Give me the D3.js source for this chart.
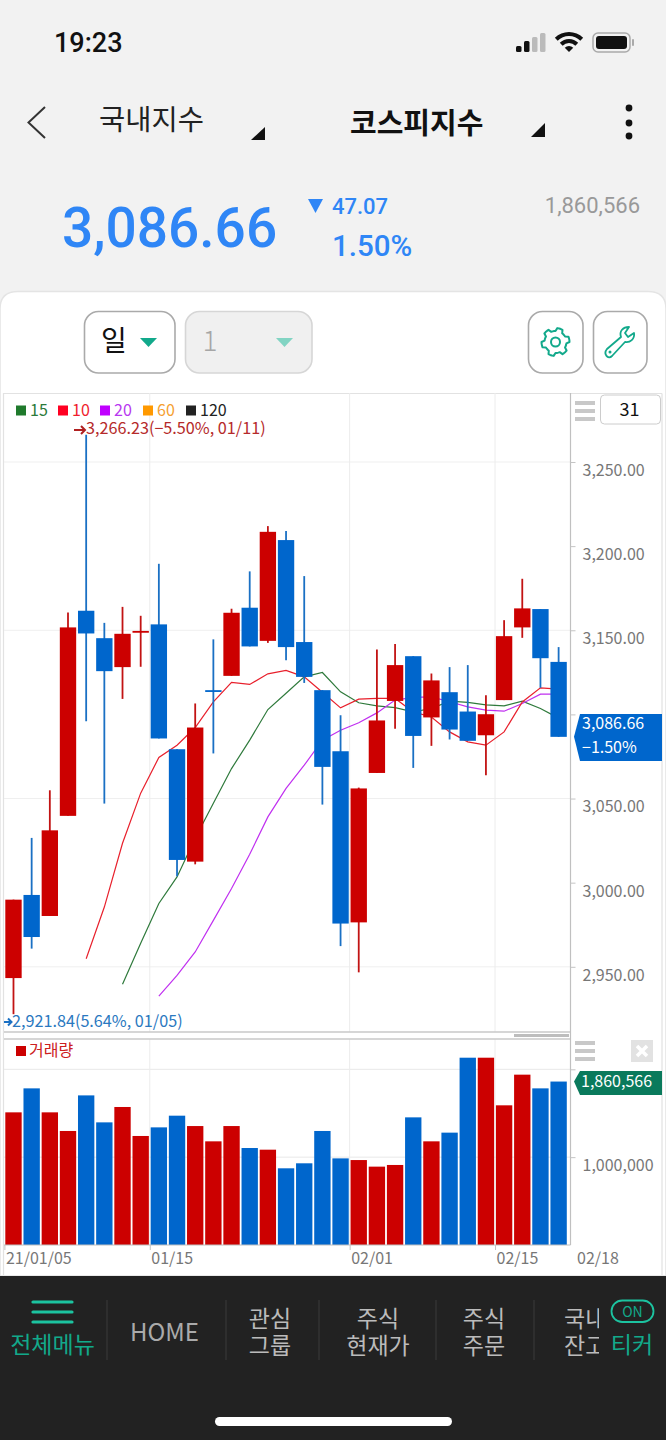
<!DOCTYPE html>
<html>
<head>
<meta charset="UTF-8">
<title>코스피지수</title>
<script src="https://cdnjs.cloudflare.com/ajax/libs/d3/7.8.5/d3.min.js"></script>
<style>
html, body { margin: 0; padding: 0; background: #f2f2f2; }
svg { display: block; }
text { font-family: "Noto Sans CJK KR", "Noto Sans", sans-serif; }
.num { font-family: Roboto, sans-serif; }
.axis path { display: none; }
.axis line { stroke: #c4c4c4; }
.axis text { fill: #777; font-size: 16px; font-family: "Noto Sans CJK KR", sans-serif; }
</style>
</head>
<body>
<div id="chart"></div>
<script>
var dates = ['01/05','01/06','01/07','01/08','01/11','01/12','01/13','01/14','01/15','01/18','01/19','01/20','01/21','01/22','01/25','01/26','01/27','01/28','01/29','02/01','02/02','02/03','02/04','02/05','02/08','02/09','02/10','02/15','02/16','02/17','02/18'];
var opens = [2943.3,2992.7,2980.2,3039.7,3161.6,3145.3,3128.1,3148.6,3153.5,3079.3,3012.5,3114.4,3122.9,3163.4,3143.7,3203.6,3143,3114.4,3078.1,2976.4,3065.2,3108,3134.6,3098.2,3113.2,3101.7,3087.6,3108.5,3151.7,3162.6,3131.2];
var closes = [2989.9,2967.7,3031.1,3151.7,3148.1,3125.7,3147.9,3149.6,3085.7,3013.5,3092.2,3113.6,3160.4,3140.4,3208.5,3140,3122.3,3068.8,2975.7,3056,3096.4,3129.3,3087.2,3120.2,3091,3084.3,3100.1,3146.5,3163,3133.4,3086.66];
var highs = [2989.9,3026.6,3054.9,3160.6,3266.23,3154.4,3163.9,3158.6,3189.5,3079.3,3106.5,3144.6,3162.8,3185,3211.9,3209,3182.2,3114.4,3099.5,3056.5,3138.6,3141.8,3134.6,3124.3,3128.1,3129.3,3111.4,3156,3180.6,3162.6,3140];
var lows = [2921.84,2960.8,2980.2,3039.7,3096,3047,3109.2,3128.3,3085.7,3003.8,3010.9,3076.8,3122.9,3140.4,3142.5,3132.2,3118.7,3046.4,2962.3,2946.7,3065.2,3091.4,3068.2,3081.3,3085.1,3084.3,3063.9,3108.5,3145.5,3115.8,3086.66];

// moving averages start later than the candles, first date given by *From
var ma10From = '01/11';
var ma10 = [2954.8,2985.5,3023.4,3053.2,3074.4,3081.7,3092.2,3107.4,3119,3117.8,3124.1,3126.1,3122.3,3113.2,3103.9,3109.1,3109.5,3109.5,3101.5,3098.5,3089.6,3083.7,3081.7,3089.6,3107.4,3115.8,3115];
var ma15From = '01/13';
var ma15 = [2939.6,2964,2987.6,3003.4,3026.4,3047.2,3067.8,3084.7,3102.9,3112.6,3122.3,3124.9,3113.4,3106.9,3105.1,3104,3101.5,3103.5,3107.9,3107.1,3105.7,3105.1,3107.9,3103.5,3097.8];
var ma20From = '01/15';
var ma20 = [2932.6,2944.9,2958.8,2977.6,2996.5,3016.9,3039.1,3056,3069.8,3084.7,3090.6,3095,3100.9,3108.5,3110.1,3110.4,3107.5,3104.5,3102.5,3101.9,3106.5,3112,3112];

var volumes = [1510000,1783000,1510000,1298000,1703000,1396000,1571000,1241000,1339000,1472000,1354000,1180000,1354000,1104000,1085000,873000,930000,1298000,986000,967000,892000,911000,1453000,1180000,1279000,2132000,2132000,1590000,1939000,1783000,1860566];
var volumeUp = [1,0,1,1,0,0,1,1,0,0,1,1,1,0,1,0,0,0,0,1,1,1,0,1,0,0,1,1,1,0,0];

var priceTicks = [3250,3200,3150,3100,3050,3000,2950];
var priceGrid = [3250,3150,3050,2950];
var volumeTicks = [1000000,2000000];
var dateTicks = ['01/05','01/15','02/01','02/15'];
var dateTickLabels = ['21/01/05','01/15','02/01','02/15'];

var legendNames = ['15','10','20','60','120'];
var legendColors = ['#1f7a2c','#ff0022','#c000ff','#ff9900','#222222'];
var legendText = ['#2b7a3a','#f01c2c','#b838f0','#f5a030','#222222'];

var RED = '#cc0000', BLUE = '#0066cc', TEAL = '#12a98b';

var svg = d3.select('#chart').append('svg').attr('width', 666).attr('height', 1440);
svg.append('rect').attr('width', 666).attr('height', 1440).attr('fill', '#f2f2f2');

function label(x, y, str, size, fill, anchor, weight, cls) {
    return svg.append('text').attr('x', x).attr('y', y).text(str)
        .attr('font-size', size).attr('fill', fill)
        .attr('text-anchor', anchor || 'start')
        .attr('font-weight', weight || 400)
        .attr('class', cls || null);
}
function poly(points, fill) {
    return svg.append('polygon').attr('points', points).attr('fill', fill);
}
function arrow(x0, x1, yy, head, width, color) {
    svg.append('path').attr('d', 'M' + x0 + ',' + yy + 'H' + x1 + 'M' + (x1 - head) + ',' + (yy - head) + 'L' + x1 + ',' + yy + 'L' + (x1 - head) + ',' + (yy + head))
        .attr('fill', 'none').attr('stroke', color).attr('stroke-width', width);
}

/* status bar */
label(54, 52, '19:23', 27, '#111', 'start', 500, 'num');
[[516,6,'#111'],[524,11,'#111'],[532,15,'#bbb'],[540,19,'#bbb']].forEach(function(b){
    svg.append('rect').attr('x', b[0]).attr('y', 52 - b[1]).attr('width', 5.5).attr('height', b[1]).attr('rx', 1.5).attr('fill', b[2]);
});
var wifi = d3.arc().startAngle(-Math.PI / 4).endAngle(Math.PI / 4);
[[0,6],[9,13],[16,20]].forEach(function(r){
    svg.append('path').attr('transform', 'translate(569,52)').attr('fill', '#111')
        .attr('d', wifi({innerRadius: r[0], outerRadius: r[1]}));
});
svg.append('rect').attr('x', 593).attr('y', 33).attr('width', 37).attr('height', 19).attr('rx', 5).attr('fill', 'none').attr('stroke', '#aaa').attr('stroke-width', 1.5);
svg.append('rect').attr('x', 596).attr('y', 36).attr('width', 31).attr('height', 13).attr('rx', 3).attr('fill', '#111');
svg.append('rect').attr('x', 632).attr('y', 39).attr('width', 2).attr('height', 7).attr('rx', 1).attr('fill', '#aaa');

/* title row */
svg.append('path').attr('d', 'M45,107L28.5,122.5L45,138').attr('fill', 'none').attr('stroke', '#333').attr('stroke-width', 2);
label(99, 130, '국내지수', 28.5, '#222');
poly('265,127 265,140 251,140', '#111');
label(350, 134, '코스피지수', 29, '#111', 'start', 700);
poly('545,123 545,137 531,137', '#111');
[108,123,136].forEach(function(y){
    svg.append('circle').attr('cx', 629).attr('cy', y).attr('r', 3.4).attr('fill', '#111');
});

/* quote */
label(62, 247, '3,086.66', 55, '#2f86f6', 'start', 500, 'num');
poly('308,199 323,199 315.5,213', '#2f86f6');
label(332, 214, '47.07', 22, '#2f86f6', 'start', 500, 'num');
label(332, 256, '1.50%', 29.5, '#2f86f6', 'start', 500, 'num');
label(640, 213, '1,860,566', 22, '#999', 'end', 400, 'num');

/* white panel */
svg.append('path').attr('d', 'M0,1276V309Q0,291.5 18,291.5H648Q666,291.5 666,309V1276Z').attr('fill', '#fff').attr('stroke', '#e4e4e4').attr('stroke-width', 1.5);

/* toolbar */
function button(x, w, fill, stroke) {
    svg.append('rect').attr('x', x).attr('y', 311.5).attr('width', w).attr('height', 61.5).attr('rx', 14)
        .attr('fill', fill).attr('stroke', stroke).attr('stroke-width', 1.6);
}
button(84.5, 90.5, '#fff', '#aaa');
label(114, 351, '일', 28, '#111', 'middle');
poly('140,338 157,338 148.5,347', TEAL);
button(185.5, 126.5, '#f0f0f0', '#d6d6d6');
label(210, 351, '1', 28, '#a6a6a6', 'middle', 300);
poly('276,338 293,338 284.5,347', '#82d4c3');
button(528.5, 54.5, '#fff', '#aaa');
button(593.5, 53.5, '#fff', '#aaa');

var gear = d3.range(48).map(function(i){
    var a = i / 48 * 2 * Math.PI - Math.PI / 8;
    var r = (i % 8) < 4 ? 14 : 11;
    return [555.5 + r * Math.cos(a), 342 + r * Math.sin(a)];
});
svg.append('path').attr('d', d3.line().curve(d3.curveLinearClosed)(gear)).attr('fill', 'none').attr('stroke', TEAL).attr('stroke-width', 2).attr('stroke-linejoin', 'round');
svg.append('circle').attr('cx', 555.5).attr('cy', 342).attr('r', 4.5).attr('fill', 'none').attr('stroke', TEAL).attr('stroke-width', 2);
svg.append('path').attr('d', 'M607,349L621,337C619,331 623,327 629,327L625,333L628,337L634,333C635,339 630,343 625,342L612,356C608,360 603,354 607,349Z')
    .attr('fill', 'none').attr('stroke', TEAL).attr('stroke-width', 1.8).attr('stroke-linejoin', 'round');
svg.append('circle').attr('cx', 610).attr('cy', 352).attr('r', 1.5).attr('fill', TEAL);

/* chart area */
var plotLeft = 4.4, plotRight = 567.7, axisX = 570.5;
var x = d3.scaleBand().domain(dates).range([plotLeft, plotRight]).paddingInner(0.1).paddingOuter(0.05);
var y = d3.scaleLinear().domain([2950, 3250]).range([966.8, 462]);
var yVol = d3.scaleLinear().domain([0, 2000000]).range([1245, 1069.3]);
function cx(d) { return x(d) + x.bandwidth() / 2; }
function edge(d) { return x(d) - (x.step() - x.bandwidth()) / 2; }

// frame
svg.append('path').attr('d', 'M662,393.5H3.5V1275M662,393.5V1275').attr('fill', 'none').attr('stroke', '#e2e2e2').attr('stroke-width', 1.2);

// grid
svg.selectAll('.hgrid').data(priceGrid).enter().append('line').attr('class', 'hgrid')
    .attr('x1', 4).attr('x2', axisX).attr('y1', function(d){ return y(d); }).attr('y2', function(d){ return y(d); })
    .attr('stroke', '#efefef');
svg.selectAll('.vhgrid').data(volumeTicks).enter().append('line').attr('class', 'vhgrid')
    .attr('x1', 4).attr('x2', axisX).attr('y1', function(d){ return yVol(d); }).attr('y2', function(d){ return yVol(d); })
    .attr('stroke', '#e8e8e8');
svg.selectAll('.vgrid').data(dateTicks.slice(1)).enter().append('line').attr('class', 'vgrid')
    .attr('x1', edge).attr('x2', edge).attr('y1', 393).attr('y2', 1245)
    .attr('stroke', '#ececec');

// moving averages
function maLine(values, from, color) {
    var start = dates.indexOf(from);
    var line = d3.line()
        .x(function(d, i){ return cx(dates[start + i]); })
        .y(function(d){ return y(d); });
    svg.append('path').datum(values).attr('d', line).attr('fill', 'none').attr('stroke', color).attr('stroke-width', 1.2);
}
maLine(ma15, ma15From, '#2f7a3c');
maLine(ma20, ma20From, '#c030f0');
maLine(ma10, ma10From, '#e8202c');

// candles
var candle = svg.selectAll('.candle').data(dates).enter().append('g').attr('class', 'candle');
function candleColor(d, i) { return closes[i] >= opens[i] ? RED : BLUE; }
candle.append('line')
    .attr('x1', cx).attr('x2', cx)
    .attr('y1', function(d, i){ return y(highs[i]); })
    .attr('y2', function(d, i){ return y(lows[i]); })
    .attr('stroke', function(d, i){ return closes[i] >= opens[i] ? '#c21313' : '#1a70c4'; })
    .attr('stroke-width', 1.8);
candle.append('rect')
    .attr('x', function(d){ return x(d); })
    .attr('width', x.bandwidth())
    .attr('y', function(d, i){ return y(Math.max(opens[i], closes[i])); })
    .attr('height', function(d, i){ return Math.max(1.8, y(Math.min(opens[i], closes[i])) - y(Math.max(opens[i], closes[i]))); })
    .attr('fill', candleColor);

// panel divider and scroll strip
svg.append('rect').attr('x', 4).attr('y', 1032).attr('width', 566.5).attr('height', 7).attr('fill', '#fff');
svg.append('line').attr('x1', 4).attr('x2', axisX).attr('y1', 1032).attr('y2', 1032).attr('stroke', '#c8c8c8').attr('stroke-width', 1.4);
svg.append('line').attr('x1', 4).attr('x2', axisX).attr('y1', 1039).attr('y2', 1039).attr('stroke', '#c8c8c8').attr('stroke-width', 1.4);
svg.append('rect').attr('x', 514).attr('y', 1034).attr('width', 55).attr('height', 3).attr('fill', '#bdbdbd');

// volume bars
svg.selectAll('.vol').data(dates).enter().append('rect').attr('class', 'vol')
    .attr('x', function(d){ return x(d); })
    .attr('width', x.bandwidth())
    .attr('y', function(d, i){ return yVol(volumes[i]); })
    .attr('height', function(d, i){ return yVol(0) - yVol(volumes[i]); })
    .attr('fill', function(d, i){ return volumeUp[i] ? RED : BLUE; });

// axes
svg.append('line').attr('x1', axisX).attr('x2', axisX).attr('y1', 393).attr('y2', 1245).attr('stroke', '#c0c0c0').attr('stroke-width', 1.2);
svg.append('line').attr('x1', 4).attr('x2', axisX).attr('y1', 1245).attr('y2', 1245).attr('stroke', '#c0c0c0').attr('stroke-width', 1.2);

var yAxis = d3.axisRight(y).tickValues(priceTicks).tickSize(5).tickPadding(7).tickFormat(d3.format(',.2f'));
var gy = svg.append('g').attr('class', 'axis').attr('transform', 'translate(' + axisX + ',0)').call(yAxis);
gy.selectAll('text').attr('dy', '0.84em');

var yVolAxis = d3.axisRight(yVol).tickValues(volumeTicks).tickSize(5).tickPadding(7).tickFormat(function(d){ return d === 1000000 ? d3.format(',')(d) : ''; });
var gv = svg.append('g').attr('class', 'axis').attr('transform', 'translate(' + axisX + ',0)').call(yVolAxis);
gv.selectAll('text').attr('dy', '0.84em');

var xAxis = d3.axisBottom(d3.scaleOrdinal().domain(dates).range(dates.map(edge))).tickValues(dateTicks).tickSize(5).tickPadding(3)
    .tickFormat(function(d, i){ return dateTickLabels[i]; });
var gx = svg.append('g').attr('class', 'axis').attr('transform', 'translate(0,1245)').call(xAxis);
gx.selectAll('text').attr('text-anchor', 'start').attr('dx', 1);
label(577, 1264, dates[dates.length - 1], 16, '#777');

// legend
var legendX = [16, 58, 100, 143, 186];
legendNames.forEach(function(n, i){
    svg.append('rect').attr('x', legendX[i]).attr('y', 405.5).attr('width', 10).attr('height', 10).attr('fill', legendColors[i]);
    label(legendX[i] + 14, 415.5, n, 16, legendText[i]);
});

// high / low marks
arrow(74, 85, 430, 4, 2, '#b02020');
label(86, 434, d3.format(',.2f')(d3.max(highs)) + '(−5.50%, ' + dates[highs.indexOf(d3.max(highs))] + ')', 16.2, '#b52a2a');
arrow(4, 11.5, 1022, 3.5, 2, '#1a70c4');
label(12, 1027, d3.format(',.2f')(d3.min(lows)) + '(5.64%, ' + dates[lows.indexOf(d3.min(lows))] + ')', 16.2, '#2a78c0');

svg.append('rect').attr('x', 16).attr('y', 1046).attr('width', 10).attr('height', 10).attr('fill', RED);
label(29, 1056, '거래량', 16, '#cc2020');

// price tags
var last = closes[closes.length - 1], lastVol = volumes[volumes.length - 1];
poly('574,' + y(last) + ' 580,714 662,714 662,761 580,761', BLUE);
label(582, 729, d3.format(',.2f')(last), 16, '#fff');
label(582, 753, '−1.50%', 16, '#fff');
poly('574,' + yVol(lastVol) + ' 580,1071 662,1071 662,1095 580,1095', '#0a7a5c');
label(581, 1087, d3.format(',')(lastVol), 16, '#fff');

// side controls
function burger(top) {
    [0, 8, 16].forEach(function(o){
        svg.append('rect').attr('x', 575).attr('y', top + o).attr('width', 20).attr('height', 4).attr('fill', '#c8c8c8');
    });
}
burger(401);
burger(1041);
svg.append('rect').attr('x', 600.5).attr('y', 395).attr('width', 60).attr('height', 29).attr('rx', 4).attr('fill', '#fff').attr('stroke', '#ccc');
label(629.5, 416, '31', 18, '#111', 'middle');
svg.append('rect').attr('x', 631).attr('y', 1040).attr('width', 22).attr('height', 22).attr('fill', '#e2e2e2');
svg.append('path').attr('d', 'M637,1046L647,1056M647,1046L637,1056').attr('stroke', '#fff').attr('stroke-width', 3.5);

/* bottom menu */
svg.append('rect').attr('y', 1276).attr('width', 666).attr('height', 164).attr('fill', '#222');
[1302, 1312, 1322].forEach(function(yy){
    svg.append('line').attr('x1', 33).attr('x2', 72).attr('y1', yy).attr('y2', yy).attr('stroke', '#1cc3a0').attr('stroke-width', 3.2).attr('stroke-linecap', 'round');
});
label(52.5, 1353, '전체메뉴', 23, TEAL, 'middle');
[107, 226, 319, 436, 534].forEach(function(xx){
    svg.append('line').attr('x1', xx).attr('x2', xx).attr('y1', 1300).attr('y2', 1360).attr('stroke', '#383838').attr('stroke-width', 1.2);
});
label(164.5, 1341, 'HOME', 24, '#aaa', 'middle');
label(270, 1327, '관심', 23, '#bbb', 'middle');
label(270, 1354, '그룹', 23, '#bbb', 'middle');
label(378, 1327, '주식', 23, '#bbb', 'middle');
label(378, 1354, '현재가', 23, '#bbb', 'middle');
label(484, 1327, '주식', 23, '#bbb', 'middle');
label(484, 1354, '주문', 23, '#bbb', 'middle');
svg.append('clipPath').attr('id', 'menuClip').append('rect').attr('x', 540).attr('y', 1290).attr('width', 59).attr('height', 80);
var clipped = svg.append('g').attr('clip-path', 'url(#menuClip)');
[['국내', 1327], ['잔고', 1354]].forEach(function(t){
    clipped.append('text').attr('x', 564).attr('y', t[1]).attr('font-size', 23).attr('fill', '#bbb').text(t[0]);
});
svg.append('rect').attr('x', 611.5).attr('y', 1300.5).attr('width', 42).attr('height', 21.5).attr('rx', 10.7).attr('fill', '#222').attr('stroke', '#1cc3a0').attr('stroke-width', 1.8);
label(632.5, 1316.5, 'ON', 14, TEAL, 'middle');
label(632, 1353, '티커', 23, TEAL, 'middle');
svg.append('rect').attr('x', 215).attr('y', 1417).attr('width', 237).attr('height', 9).attr('rx', 4.5).attr('fill', '#fff');
</script>
</body>
</html>
